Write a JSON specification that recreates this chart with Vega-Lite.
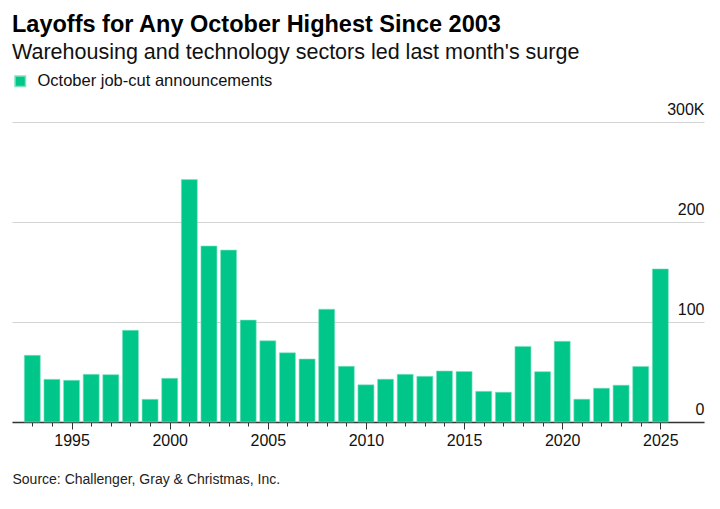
{
  "$schema": "https://vega.github.io/schema/vega-lite/v6.json",
  "width": 692,
  "height": 300,
  "autosize": "none",
  "padding": {"left": 12, "top": 122, "right": 16, "bottom": 87},
  "background": "white",
  "title": {
    "text": "Layoffs for Any October Highest Since 2003",
    "subtitle": "Warehousing and technology sectors led last month's surge",
    "anchor": "start",
    "frame": "group",
    "font": "Liberation Sans",
    "fontSize": 23.5,
    "fontWeight": "bold",
    "color": "#000000",
    "subtitleFont": "Liberation Sans",
    "subtitleFontSize": 21.5,
    "subtitleColor": "#111111",
    "subtitlePadding": 5,
    "offset": 10
  },
  "data": {
    "values": [
      {"year": 1993, "cuts": 66.7, "series": "October job-cut announcements"},
      {"year": 1994, "cuts": 42.7, "series": "October job-cut announcements"},
      {"year": 1995, "cuts": 41.7, "series": "October job-cut announcements"},
      {"year": 1996, "cuts": 47.7, "series": "October job-cut announcements"},
      {"year": 1997, "cuts": 47.3, "series": "October job-cut announcements"},
      {"year": 1998, "cuts": 91.7, "series": "October job-cut announcements"},
      {"year": 1999, "cuts": 22.7, "series": "October job-cut announcements"},
      {"year": 2000, "cuts": 43.7, "series": "October job-cut announcements"},
      {"year": 2001, "cuts": 242.4, "series": "October job-cut announcements"},
      {"year": 2002, "cuts": 176.0, "series": "October job-cut announcements"},
      {"year": 2003, "cuts": 171.9, "series": "October job-cut announcements"},
      {"year": 2004, "cuts": 101.9, "series": "October job-cut announcements"},
      {"year": 2005, "cuts": 81.2, "series": "October job-cut announcements"},
      {"year": 2006, "cuts": 69.2, "series": "October job-cut announcements"},
      {"year": 2007, "cuts": 63.0, "series": "October job-cut announcements"},
      {"year": 2008, "cuts": 112.8, "series": "October job-cut announcements"},
      {"year": 2009, "cuts": 55.7, "series": "October job-cut announcements"},
      {"year": 2010, "cuts": 37.2, "series": "October job-cut announcements"},
      {"year": 2011, "cuts": 42.8, "series": "October job-cut announcements"},
      {"year": 2012, "cuts": 47.7, "series": "October job-cut announcements"},
      {"year": 2013, "cuts": 45.7, "series": "October job-cut announcements"},
      {"year": 2014, "cuts": 51.0, "series": "October job-cut announcements"},
      {"year": 2015, "cuts": 50.5, "series": "October job-cut announcements"},
      {"year": 2016, "cuts": 30.7, "series": "October job-cut announcements"},
      {"year": 2017, "cuts": 29.8, "series": "October job-cut announcements"},
      {"year": 2018, "cuts": 75.6, "series": "October job-cut announcements"},
      {"year": 2019, "cuts": 50.3, "series": "October job-cut announcements"},
      {"year": 2020, "cuts": 80.7, "series": "October job-cut announcements"},
      {"year": 2021, "cuts": 22.8, "series": "October job-cut announcements"},
      {"year": 2022, "cuts": 33.8, "series": "October job-cut announcements"},
      {"year": 2023, "cuts": 36.8, "series": "October job-cut announcements"},
      {"year": 2024, "cuts": 55.6, "series": "October job-cut announcements"},
      {"year": 2025, "cuts": 153.1, "series": "October job-cut announcements"}
    ]
  },
  "mark": {"type": "bar", "width": 16, "stroke": "#7fe3bf", "strokeWidth": 0.6},
  "encoding": {
    "x": {
      "field": "year",
      "type": "quantitative",
      "scale": {"domain": [1992.22, 2026.97], "nice": false, "zero": false},
      "axis": {
        "values": [1993, 1994, 1995, 1996, 1997, 1998, 1999, 2000, 2001, 2002, 2003, 2004, 2005, 2006, 2007, 2008, 2009, 2010, 2011, 2012, 2013, 2014, 2015, 2016, 2017, 2018, 2019, 2020, 2021, 2022, 2023, 2024, 2025],
        "labelExpr": "datum.value % 5 === 0 ? format(datum.value, 'd') : ''",
        "labelFont": "Liberation Sans",
        "labelFontSize": 16,
        "labelColor": "#111111",
        "labelPadding": 3,
        "labelOverlap": false,
        "domainColor": "#333333",
        "domainWidth": 1.5,
        "tickColor": "#333333",
        "tickWidth": 1,
        "tickSize": {"condition": {"test": "datum.value % 5 === 0", "value": 7}, "value": 4},
        "grid": false,
        "title": "Source: Challenger, Gray & Christmas, Inc.",
        "titleAnchor": "start",
        "titleAlign": "left",
        "titleFont": "Liberation Sans",
        "titleFontSize": 14,
        "titleFontWeight": "normal",
        "titleColor": "#222222",
        "titlePadding": 24
      }
    },
    "y": {
      "field": "cuts",
      "type": "quantitative",
      "scale": {"domain": [0, 300], "nice": false},
      "axis": {
        "orient": "right",
        "values": [0, 100, 200, 300],
        "labelExpr": "datum.value === 300 ? '300K' : datum.label",
        "labelAlign": "right",
        "labelBaseline": "alphabetic",
        "labelPadding": 0,
        "labelOffset": -8,
        "labelFont": "Liberation Sans",
        "labelFontSize": 16,
        "labelColor": "#111111",
        "ticks": false,
        "domain": false,
        "grid": true,
        "gridColor": "#d4d4d4",
        "gridWidth": 1,
        "title": null
      }
    },
    "color": {
      "field": "series",
      "type": "nominal",
      "scale": {"range": ["#00c68a"]},
      "legend": {
        "title": null,
        "orient": "none",
        "legendX": 0,
        "legendY": -49,
        "symbolType": "square",
        "symbolSize": 110,
        "labelFont": "Liberation Sans",
        "labelFontSize": 16.5,
        "labelColor": "#111111",
        "labelOffset": 9,
        "labelLimit": 0
      }
    }
  },
  "config": {"view": {"stroke": null}}
}
